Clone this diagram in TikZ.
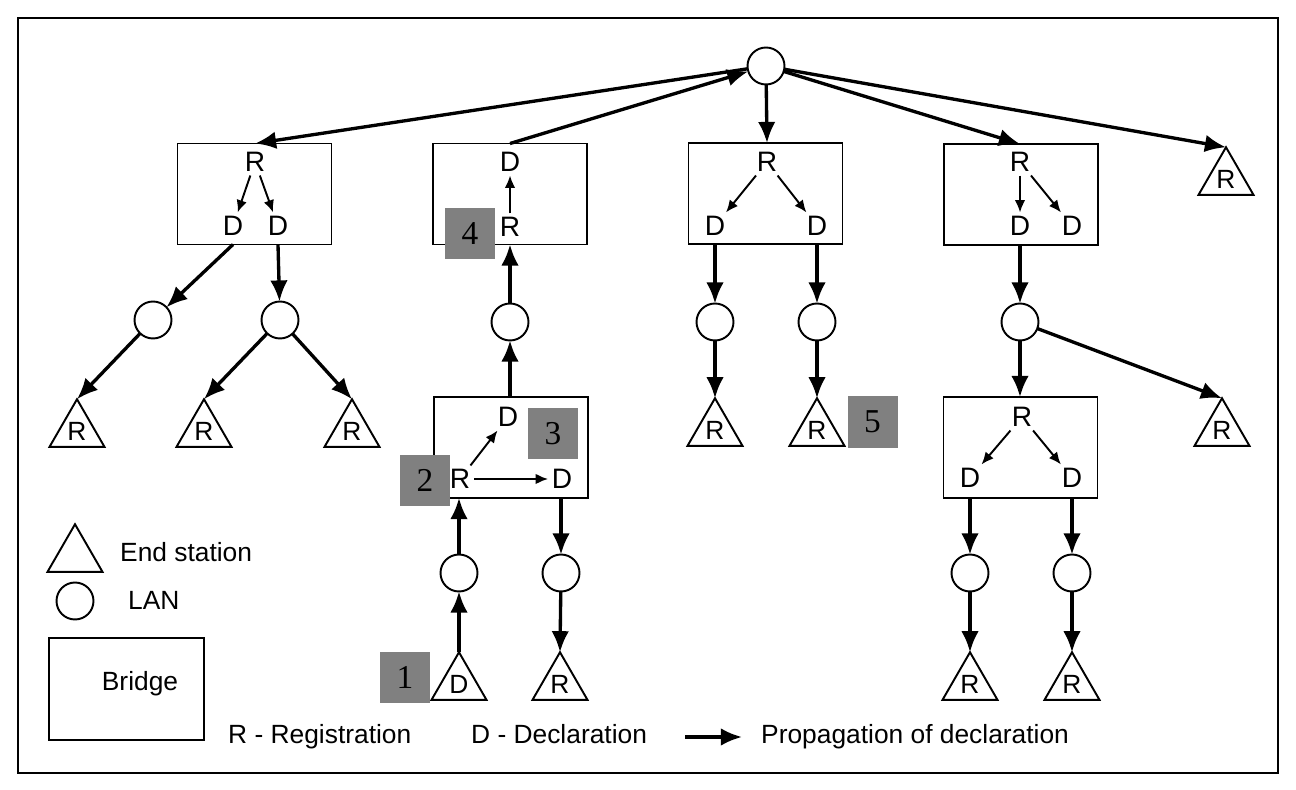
\documentclass[tikz,border=0pt]{standalone}
\usepackage{fontspec}
\setmainfont{Liberation Sans}
\newfontfamily\numfont{Liberation Serif}
\usetikzlibrary{shapes.geometric,arrows.meta}

\definecolor{tagfill}{RGB}{128,128,128}

\begin{document}
\begin{tikzpicture}[x=0.02cm,y=-0.02cm,
  every node/.style={font=\fontsize{15}{18}\selectfont},
  lan/.style={circle,draw,line width=1.1pt,minimum size=0.74cm,inner sep=0pt,outer sep=0pt},
  bridge/.style={rectangle,draw,line width=1.1pt,minimum width=3.08cm,minimum height=2.02cm,inner sep=0pt,outer sep=0pt},
  station/.style={regular polygon,regular polygon sides=3,draw,line width=1.1pt,minimum size=1.27cm,inner sep=0pt,outer sep=0pt},
  letter/.style={inner sep=2pt,font=\fontsize{16}{19}\selectfont},
  flow/.style={line width=1.9pt,-{Latex[length=12pt,width=10pt]}},
  inner/.style={line width=1.1pt,-{Latex[length=7pt,width=6pt]}},
  tag/.style={fill=tagfill,minimum width=1cm,minimum height=1.04cm,inner sep=0pt,font=\numfont\fontsize{19}{22}\selectfont}
]
\path[use as bounding box] (0,0) rectangle (1296,790);
\draw[line width=1.1pt] (18,18) rectangle (1278,773);

% root LAN
\node[lan] (top) at (766,66) {};

% bridges with their registration / declaration entries
\node[bridge] (b1) at (254.5,194) {};
\node[letter] (b1r) at (255,162) {R};
\node[letter] (b1dl) at (233,226) {D};
\node[letter] (b1dr) at (278,226) {D};

\node[bridge] (b2) at (510,194) {};
\node[letter] (b2d) at (510,162) {D};
\node[letter] (b2r) at (510,227) {R};

\node[bridge] (b3) at (765.5,193.5) {};
\node[letter] (b3r) at (767,162) {R};
\node[letter] (b3dl) at (715,226) {D};
\node[letter] (b3dr) at (817,226) {D};

\node[bridge] (b4) at (1021,194.5) {};
\node[letter] (b4r) at (1020,162) {R};
\node[letter] (b4dl) at (1020,226) {D};
\node[letter] (b4dr) at (1072,226) {D};

\node[bridge] (b5) at (511,447.5) {};
\node[letter] (b5du) at (508,417) {D};
\node[letter] (b5r) at (460,479) {R};
\node[letter] (b5dr) at (562,479) {D};

\node[bridge] (b6) at (1020.5,447.5) {};
\node[letter] (b6r) at (1022,417) {R};
\node[letter] (b6dl) at (970,478) {D};
\node[letter] (b6dr) at (1072,478) {D};

% LANs
\node[lan] (l1) at (153,320) {};
\node[lan] (l2) at (280,320) {};
\node[lan] (l3) at (510,322) {};
\node[lan] (l4) at (715,322) {};
\node[lan] (l5) at (817,322) {};
\node[lan] (l6) at (1020,322) {};
\node[lan] (l7) at (459,573) {};
\node[lan] (l8) at (561,573) {};
\node[lan] (l9) at (970,573) {};
\node[lan] (l10) at (1072,573) {};

% end stations
\node[station] (t1) at (77,431) {R};
\node[station] (t2) at (204,431) {R};
\node[station] (t3) at (352,431) {R};
\node[station] (ttop) at (1226,179) {R};
\node[station] (tr) at (1222,430) {R};
\node[station] (t4) at (715,430) {R};
\node[station] (t5) at (817,430) {R};
\node[station] (t6) at (459,684) {D};
\node[station] (t7) at (560,684) {R};
\node[station] (t8) at (970,684) {R};
\node[station] (t9) at (1072,684) {R};

% propagation inside bridges
\draw[inner] (b1r) -- (b1dl);
\draw[inner] (b1r) -- (b1dr);
\draw[inner] (b2r) -- (b2d);
\draw[inner] (b3r) -- (b3dl);
\draw[inner] (b3r) -- (b3dr);
\draw[inner] (b4r) -- (b4dl);
\draw[inner] (b4r) -- (b4dr);
\draw[inner] (b5r) -- (b5du);
\draw[inner] (b5r) -- (b5dr);
\draw[inner] (b6r) -- (b6dl);
\draw[inner] (b6r) -- (b6dr);

% propagation between LANs, bridges and stations
\draw[flow] (top) -- (b1.north -| b1r);
\draw[flow] (b2.north -| b2d) -- (top);
\draw[flow] (top) -- (b3.north -| b3r);
\draw[flow] (top) -- (b4.north -| b4r);
\draw[flow] (top) -- (ttop.corner 1);

\draw[flow] (b1.south -| b1dl) -- (l1);
\draw[flow] (b1.south -| b1dr) -- (l2);
\draw[flow] (l1) -- (t1.corner 1);
\draw[flow] (l2) -- (t2.corner 1);
\draw[flow] (l2) -- (t3.corner 1);

\draw[flow] (l3) -- (b2.south -| l3);
\draw[flow] (b5.north -| l3) -- (l3);
\draw[flow] (l7) -- (b5.south -| l7);
\draw[flow] (t6.corner 1) -- (l7);
\draw[flow] (b5.south -| l8) -- (l8);
\draw[flow] (l8) -- (t7.corner 1);

\draw[flow] (b3.south -| l4) -- (l4);
\draw[flow] (b3.south -| l5) -- (l5);
\draw[flow] (l4) -- (t4.corner 1);
\draw[flow] (l5) -- (t5.corner 1);

\draw[flow] (b4.south -| l6) -- (l6);
\draw[flow] (l6) -- (b6.north -| l6);
\draw[flow] (l6) -- (tr.corner 1);
\draw[flow] (b6.south -| l9) -- (l9);
\draw[flow] (b6.south -| l10) -- (l10);
\draw[flow] (l9) -- (t8.corner 1);
\draw[flow] (l10) -- (t9.corner 1);

% step numbers
\node[tag] (n4) at (470,233.5) {4};
\node[tag] (n3) at (553,433.5) {3};
\node[tag] (n2) at (425,480.5) {2};
\node[tag] (n1) at (405,677.5) {1};
\node[tag] (n5) at (872.5,422) {5};

% legend
\node[station] (kt) at (75,556) {};
\node[anchor=west] (ktx) at (114,552) {End station};
\node[lan] (kl) at (75,601) {};
\node[anchor=west] (klx) at (122,600) {LAN};
\node[bridge,minimum width=3.1cm,minimum height=2.04cm] (kb) at (126.5,689) {};
\node (kbx) at (140,684) {Bridge};
\node[anchor=base west] (kr) at (222,744) {R - Registration};
\node[anchor=base west] (kd) at (465,744) {D - Declaration};
\coordinate (ka) at (685,737);
\coordinate (kb2) at (742,737);
\draw[flow] (ka) -- (kb2);
\node[anchor=base west] (kp) at (755,744) {Propagation of declaration};
\end{tikzpicture}
\end{document}
